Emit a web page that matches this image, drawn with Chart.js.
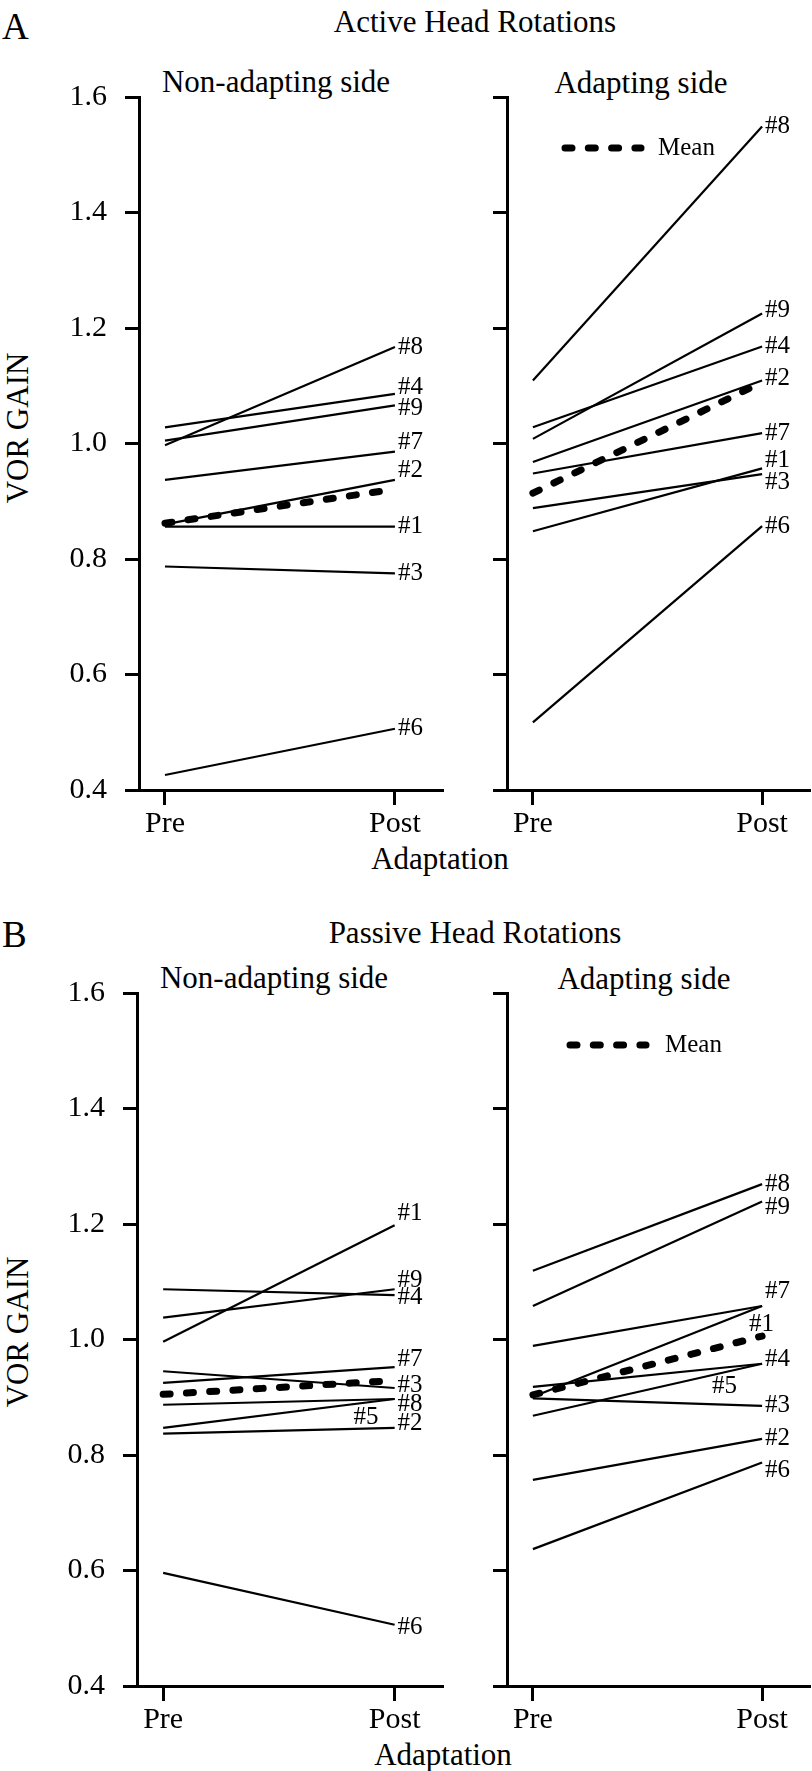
<!DOCTYPE html>
<html>
<head>
<meta charset="utf-8">
<script src="https://cdn.jsdelivr.net/npm/chart.js@4.4.0/dist/chart.umd.min.js"></script>
<style>
  body { margin: 0; background: #fff; width: 812px; height: 1771px; position: relative; overflow: hidden;
         font-family: "Liberation Serif", "Times New Roman", Times, serif; color: #000; }
  .t { position: absolute; white-space: nowrap; line-height: 1; transform: translate(-50%, -50%); }
  .l { position: absolute; white-space: nowrap; line-height: 1; transform: translate(0, -50%); }
  .v { position: absolute; white-space: nowrap; line-height: 1; transform: translate(-50%, -50%) rotate(-90deg); }
  canvas { position: absolute; }
</style>
</head>
<body>
<div class="l" style="left:2px;top:26px;font-size:37px">A</div>
<div class="t" style="left:475px;top:21px;font-size:31px">Active Head Rotations</div>
<div class="t" style="left:276px;top:81px;font-size:31px">Non-adapting side</div>
<div class="t" style="left:641px;top:82px;font-size:31px">Adapting side</div>
<div class="v" style="left:17px;top:428px;font-size:31px">VOR GAIN</div>
<div class="t" style="left:440px;top:858px;font-size:31px">Adaptation</div>

<div class="l" style="left:2px;top:934px;font-size:37px">B</div>
<div class="t" style="left:475px;top:932px;font-size:31px">Passive Head Rotations</div>
<div class="t" style="left:274px;top:977px;font-size:31px">Non-adapting side</div>
<div class="t" style="left:644px;top:978px;font-size:31px">Adapting side</div>
<div class="v" style="left:17px;top:1332px;font-size:31px">VOR GAIN</div>
<div class="t" style="left:443px;top:1754px;font-size:31px">Adaptation</div>

<canvas id="aLeft" width="446" height="780" style="left:0;top:60px"></canvas>
<canvas id="aRight" width="352" height="780" style="left:460px;top:60px"></canvas>
<canvas id="bLeft" width="446" height="780" style="left:0;top:956px"></canvas>
<canvas id="bRight" width="352" height="780" style="left:460px;top:956px"></canvas>

<script>
const FONT = "'Liberation Serif', 'Times New Roman', Times, serif";

const subjects = ['#1', '#2', '#3', '#4', '#5', '#6', '#7', '#8', '#9'];
const phases = ['Pre', 'Post'];
const gainTicks = [0.4, 0.6, 0.8, 1.0, 1.2, 1.4, 1.6];

// A: active head rotations (no subject #5)
const activeNonAdaptPre  = [0.856, 0.860, 0.787, 1.028, null, 0.426, 0.937, 0.997, 1.005];
const activeNonAdaptPost = [0.856, 0.937, 0.775, 1.086, null, 0.506, 0.986, 1.167, 1.066];
const activeNonAdaptMean = [0.862, 0.921];
const activeAdaptPre  = [0.848, 0.968, 0.888, 1.028, null, 0.517, 0.948, 1.109, 1.008];
const activeAdaptPost = [0.957, 1.109, 0.947, 1.168, null, 0.857, 1.018, 1.549, 1.225];
const activeAdaptMean = [0.914, 1.106];

// B: passive head rotations
const passiveNonAdaptPre  = [0.996, 0.837, 0.945, 1.087, 0.847, 0.596, 0.925, 0.887, 1.038];
const passiveNonAdaptPost = [1.198, 0.847, 0.916, 1.077, 0.897, 0.506, 0.952, 0.897, 1.087];
const passiveNonAdaptMean = [0.905, 0.929];
const passiveAdaptPre  = [0.901, 0.757, 0.898, 0.918, 0.868, 0.637, 0.989, 1.119, 1.058];
const passiveAdaptPost = [1.058, 0.828, 0.885, 0.958, 0.958, 0.787, 1.058, 1.269, 1.239];
const passiveAdaptMean = [0.904, 1.006];

const MEAN_DASH = [7, 16.3];

// subject labels at the Post end of each line, plus the "Mean" key
const endLabels = {
  id: 'endLabels',
  afterDatasetsDraw(chart, args, opts) {
    const ctx = chart.ctx;
    ctx.save();
    ctx.fillStyle = '#000';
    ctx.font = '25px ' + FONT;
    ctx.textAlign = 'left';
    ctx.textBaseline = 'middle';
    chart.data.datasets.forEach((ds, i) => {
      if (ds.isMean) return;
      const pt = chart.getDatasetMeta(i).data[1];
      const shift = (opts.shifts || {})[ds.label] || [0, 0];
      ctx.fillText(ds.label, pt.x + 3 + shift[0], pt.y + shift[1]);
    });
    if (opts.legend) {
      const a = chart.chartArea, lg = opts.legend;
      ctx.strokeStyle = '#000';
      ctx.lineWidth = 7;
      ctx.lineCap = 'round';
      ctx.setLineDash(MEAN_DASH);
      ctx.beginPath();
      ctx.moveTo(a.left + lg.x, a.top + lg.y);
      ctx.lineTo(a.left + lg.x + 76, a.top + lg.y);
      ctx.stroke();
      ctx.setLineDash([]);
      ctx.fillText('Mean', a.left + lg.textX, a.top + lg.y);
    }
    ctx.restore();
  }
};

function makePanel(id, pre, post, mean, opts) {
  const datasets = [];
  subjects.forEach((s, i) => {
    if (pre[i] == null) return;
    datasets.push({
      label: s,
      data: [{ x: 0, y: pre[i] }, { x: 1, y: post[i] }],
      borderColor: '#000', borderWidth: 2.2, pointRadius: 0, showLine: true
    });
  });
  datasets.push({
    label: 'Mean', isMean: true,
    data: [{ x: 0, y: mean[0] }, { x: 1, y: mean[1] }],
    borderColor: '#000', borderWidth: 7, borderDash: MEAN_DASH, borderCapStyle: 'round',
    pointRadius: 0, showLine: true
  });

  const tickFont = { family: FONT, size: 30, lineHeight: 1.2 };
  return new Chart(document.getElementById(id), {
    type: 'scatter',
    data: { datasets },
    options: {
      responsive: false, animation: false, devicePixelRatio: 1,
      layout: { padding: { top: 37, right: opts.padRight, bottom: 0, left: 0 } },
      plugins: {
        legend: { display: false }, tooltip: { enabled: false },
        endLabels: { shifts: opts.shifts, legend: opts.legend }
      },
      scales: {
        x: {
          type: 'linear', min: -0.113, max: 1.209,
          afterBuildTicks: s => { s.ticks = phases.map((p, i) => ({ value: i })); },
          afterFit: s => { s.height = 50; },
          ticks: { callback: v => phases[v], font: tickFont, color: '#000', padding: 1, maxRotation: 0, autoSkip: false },
          grid: { drawOnChartArea: false, tickLength: 15, tickWidth: 3, tickColor: '#000' },
          border: { display: true, color: '#000', width: 3 }
        },
        y: {
          type: 'linear', min: 0.4, max: 1.6,
          afterBuildTicks: s => { s.ticks = gainTicks.map(v => ({ value: v })); },
          afterFit: s => { s.width = opts.axisWidth; },
          ticks: { display: opts.showTickLabels, callback: v => v.toFixed(1), font: tickFont, color: '#000', padding: 18 },
          grid: { drawOnChartArea: false, tickLength: 14, tickWidth: 3, tickColor: '#000' },
          border: { display: true, color: '#000', width: 3 }
        }
      }
    },
    plugins: [endLabels]
  });
}

makePanel('aLeft', activeNonAdaptPre, activeNonAdaptPost, activeNonAdaptMean, {
  axisWidth: 139, padRight: 3, showTickLabels: true,
  shifts: { '#4': [0, -6], '#9': [0, 3], '#7': [0, -9], '#2': [0, -9] }
});
makePanel('aRight', activeAdaptPre, activeAdaptPost, activeAdaptMean, {
  axisWidth: 47, padRight: 2, showTickLabels: false,
  shifts: { '#9': [0, -3], '#2': [0, -2], '#1': [0, -8], '#3': [0, 8] },
  legend: { x: 58, y: 51, textX: 151 }
});
makePanel('bLeft', passiveNonAdaptPre, passiveNonAdaptPost, passiveNonAdaptMean, {
  axisWidth: 137, padRight: 3, showTickLabels: true,
  shifts: { '#1': [0, -12], '#9': [0, -9], '#4': [0, 2], '#7': [0, -8], '#3': [0, -3],
            '#8': [0, 5], '#2': [0, -4], '#5': [-44, 18], '#6': [0, 3] }
});
makePanel('bRight', passiveAdaptPre, passiveAdaptPost, passiveAdaptMean, {
  axisWidth: 47, padRight: 2, showTickLabels: false,
  shifts: { '#9': [0, 6], '#7': [0, -15], '#1': [-16, 18], '#4': [0, -4], '#5': [-53, 23], '#6': [0, 8] },
  legend: { x: 63, y: 52, textX: 158 }
});
</script>
</body>
</html>
